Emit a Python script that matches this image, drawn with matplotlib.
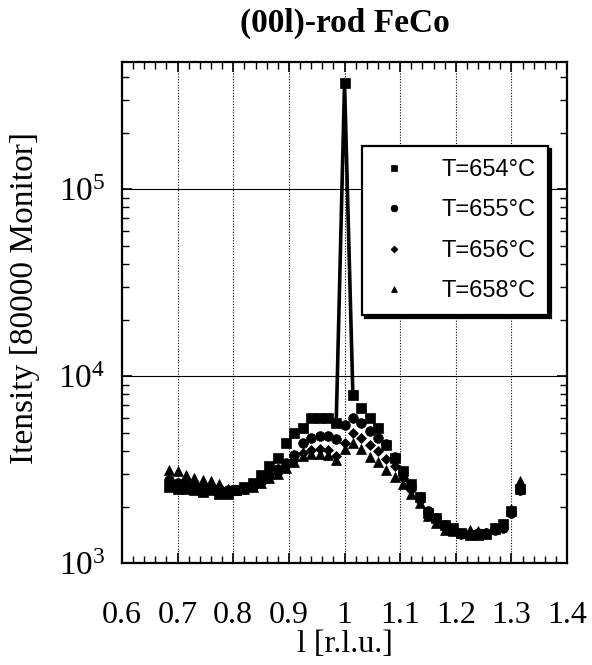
import numpy as np
import matplotlib
matplotlib.use("Agg")
import matplotlib.pyplot as plt

# l values (r.l.u.)
l_vals = [0.685, 0.700, 0.715, 0.730, 0.745, 0.760, 0.775, 0.790, 0.805, 0.820,
          0.835, 0.850, 0.865, 0.880, 0.895, 0.910, 0.925, 0.940, 0.955, 0.970,
          0.985, 1.000, 1.015, 1.030, 1.045, 1.060, 1.075, 1.090, 1.105, 1.120,
          1.135, 1.150, 1.165, 1.180, 1.195, 1.210, 1.225, 1.240, 1.255, 1.270,
          1.285, 1.300, 1.315]

I_654 = [2550, 2500, 2500, 2450, 2400, 2450, 2350, 2350, 2450, 2550,
         2700, 2950, 3300, 3650, 4400, 4950, 5300, 5950, 6000, 6000,
         5600, 370000, 7900, 6800, 6000, 5300, 4300, 3650, 3100, 2650,
         2250, 1850, 1750, 1600, 1550, 1450, 1420, 1420, 1430, 1550,
         1620, 1900, 2500]

I_655 = [2800, 2700, 2650, 2600, 2550, 2550, 2500, 2450, 2450, 2500,
         2600, 2750, 2950, 3200, 3450, 3800, 4400, 4650, 4800, 4800,
         4600, 5500, 5950, 5600, 5100, 4650, 4350, 3700, 3050, 2600,
         2250, 1900, 1750, 1600, 1500, 1430, 1430, 1450, 1450, 1500,
         1550, 1850, 2450]

I_656 = [2700, 2650, 2650, 2600, 2550, 2500, 2450, 2400, 2450, 2500,
         2600, 2700, 2850, 3050, 3300, 3550, 3900, 4050, 4100, 4050,
         3750, 4400, 5000, 4700, 4300, 4000, 3600, 3300, 2850, 2450,
         2150, 1850, 1700, 1550, 1500, 1450, 1420, 1450, 1450, 1550,
         1600, 1900, 2600]

I_658 = [3150, 3100, 2950, 2850, 2800, 2750, 2650, 2500, 2450, 2500,
         2550, 2700, 2850, 3000, 3250, 3500, 3750, 3850, 3850, 3800,
         3550, 4100, 4400, 4100, 3700, 3500, 3150, 2900, 2650, 2350,
         2100, 1800, 1650, 1500, 1480, 1450, 1500, 1480, 1450, 1520,
         1620, 1950, 2750]

labels = ["T=654°C", "T=655°C", "T=656°C", "T=658°C"]
x_ticks = [0.6, 0.7, 0.8, 0.9, 1.0, 1.1, 1.2, 1.3, 1.4]
x_ticklabels = ["0.6", "0.7", "0.8", "0.9", "1", "1.1", "1.2", "1.3", "1.4"]
y_ticks = [1e3, 1e4, 1e5]
y_ticklabels = [r"$\mathregular{10^{3}}$", r"$\mathregular{10^{4}}$", r"$\mathregular{10^{5}}$"]

plt.rcParams["font.family"] = ["Liberation Serif", "DejaVu Serif"]
plt.rcParams["mathtext.fontset"] = "custom"
plt.rcParams["mathtext.rm"] = "Liberation Serif"

fig = plt.figure(figsize=(5.92, 6.65), dpi=100)
ax = fig.add_axes([0.206, 0.153, 0.752, 0.754])

# line only around the sharp peak of the 654 C scan
ax.plot(l_vals[20:23], I_654[20:23], color="k", lw=2.6, zorder=2)

series = [(I_654, "s", 6.5), (I_655, "o", 7.0), (I_656, "D", 5.0), (I_658, "^", 7.0)]
for (vals, mk, ms), lab in zip(series, labels):
    ax.plot(l_vals, vals, linestyle="none", marker=mk, ms=ms, color="k",
            markeredgewidth=0.5, label=lab, zorder=3)

ax.set_yscale("log")
ax.set_xlim(0.6, 1.4)
ax.set_ylim(1e3, 4.8e5)

ax.set_xticks(x_ticks)
ax.set_xticklabels(x_ticklabels)
ax.set_xticks(np.arange(0.6, 1.4001, 0.02), minor=True)
ax.set_yticks(y_ticks)
ax.set_yticklabels(y_ticklabels)

ax.tick_params(which="both", direction="in", top=True, right=True)
ax.tick_params(which="major", length=7, width=1.2)
ax.tick_params(axis="x", which="major", pad=27, labelsize=23)
ax.tick_params(axis="y", which="major", pad=12, labelsize=24)
ax.tick_params(which="minor", length=5, width=1.0)
ax.tick_params(axis="y", which="minor", labelleft=False)

ax.grid(True, axis="x", which="major", linestyle=(0, (1, 1.5)), color="k", lw=0.8)
ax.grid(True, axis="y", which="major", linestyle="-", color="k", lw=0.8)

for sp in ax.spines.values():
    sp.set_linewidth(1.6)

ax.set_title("(00l)-rod FeCo", fontsize=24, fontweight="bold", pad=22)
ax.set_xlabel("l [r.l.u.]", fontsize=23, labelpad=0)
ax.set_ylabel("Itensity [80000 Monitor]", fontsize=24)
ax.yaxis.set_label_coords(-0.185, 0.53)

leg = ax.legend(loc="upper left", bbox_to_anchor=(0.539, 0.832),
                prop={"family": "Liberation Sans", "size": 17},
                markerscale=0.7, handlelength=1.6, handletextpad=1.2,
                labelspacing=0.78, borderpad=0.55, borderaxespad=0,
                fancybox=False, shadow={"color": "k", "alpha": 1},
                framealpha=1)
leg.get_frame().set_edgecolor("k")
leg.get_frame().set_linewidth(1.6)

fig.savefig("out.png", dpi=100)
